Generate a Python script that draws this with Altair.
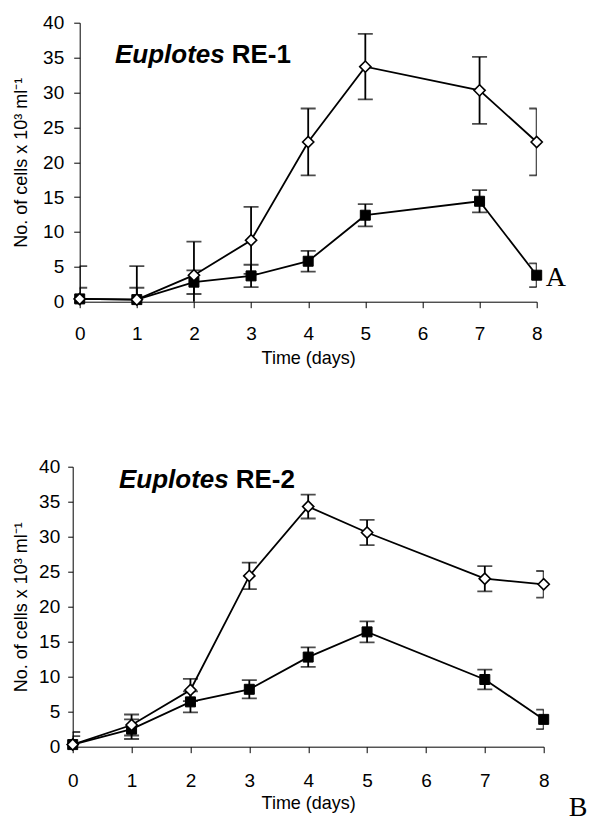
import altair as alt
import pandas as pd

# ---- data ----
days = [0, 1, 2, 3, 4, 5, 7, 8]
x_ticks = [0, 1, 2, 3, 4, 5, 6, 7, 8]
y_ticks = [0, 5, 10, 15, 20, 25, 30, 35, 40]

re1_open_mean = [0.4, 0.3, 3.8, 8.8, 22.9, 33.7, 30.3, 22.9]
re1_open_err = [4.7, 4.8, 4.8, 4.8, 4.8, 4.7, 4.8, 4.8]
re1_filled_mean = [0.4, 0.3, 2.8, 3.7, 5.8, 12.4, 14.4, 3.8]
re1_filled_err = [1.6, 1.7, 1.7, 1.6, 1.5, 1.6, 1.6, 1.7]

re2_open_mean = [0.3, 3.1, 8.1, 24.4, 34.3, 30.6, 24.0, 23.2]
re2_open_err = [1.8, 1.5, 1.6, 1.9, 1.7, 1.8, 1.8, 1.9]
re2_filled_mean = [0.3, 2.5, 6.4, 8.2, 12.8, 16.4, 9.6, 3.9]
re2_filled_err = [1.2, 1.4, 1.5, 1.3, 1.4, 1.5, 1.4, 1.4]

series_names = ["open", "filled"]
title_italic = ["Euplotes", "Euplotes"]
title_rest = ["RE-1", "RE-2"]
panel_letters = ["A", "B"]
x_title = "Time (days)"
y_title = "No. of cells x 10\u00b3 ml\u207b\u00b9"

FONT = "Liberation Sans"


def make_df(open_mean, open_err, filled_mean, filled_err):
    rows = []
    for name, m, e in [("open", open_mean, open_err), ("filled", filled_mean, filled_err)]:
        for d, mv, ev in zip(days, m, e):
            rows.append({"series": name, "day": d, "mean": mv, "lo": mv - ev, "hi": mv + ev})
    return pd.DataFrame(rows)


def panel(df, w, h, cfg):
    x_axis = alt.Axis(values=x_ticks, grid=False, tickSize=cfg["xtick"], labelPadding=cfg["xlabpad"],
                      labelFontSize=19, labelFont=FONT, labelColor="black", tickColor="black",
                      domainColor="black", title=x_title, titleFont=FONT, titleFontSize=18,
                      titleFontWeight="normal", titleColor="black", titleBaseline="top",
                      titleY=cfg["xtitley"], labelFlush=False)
    y_axis = alt.Axis(values=y_ticks, grid=False, tickSize=cfg["ytick"], labelPadding=cfg["ylabpad"],
                      labelFontSize=19, labelFont=FONT, labelColor="black", tickColor="black",
                      domainColor="black", title=y_title, titleFont=FONT, titleFontSize=18,
                      titleFontWeight="normal", titleColor="black", titleBaseline="middle",
                      titleX=cfg["ytitlex"], labelFlush=False)
    xs = alt.Scale(domain=[0, 8], nice=False)
    ys = alt.Scale(domain=[0, 40], nice=False)

    def X():
        return alt.X("day:Q", scale=xs, axis=x_axis)

    def Y(f):
        return alt.Y(f + ":Q", scale=ys, axis=y_axis)

    base = alt.Chart(df)
    lines = base.mark_line(color="black", strokeWidth=1.8).encode(x=X(), y=Y("mean"), detail="series:N")
    rules = base.mark_rule(color="black", strokeWidth=1.8, clip=True).encode(
        x=X(), y=Y("lo"), y2="hi:Q")
    cap_hi = base.mark_tick(orient="horizontal", size=15, thickness=1.8, color="black", clip=True).encode(
        x=X(), y=Y("hi"))
    cap_lo = base.mark_tick(orient="horizontal", size=15, thickness=1.8, color="black", clip=True).encode(
        x=X(), y=Y("lo"))
    pts_f = base.transform_filter(alt.datum.series == "filled").mark_point(
        shape="square", size=100, fill="black", stroke="black", strokeWidth=1, fillOpacity=1, opacity=1
    ).encode(x=X(), y=Y("mean"))
    pts_o = base.transform_filter(alt.datum.series == "open").mark_point(
        shape="diamond", size=125, fill="white", stroke="black", strokeWidth=1.6, fillOpacity=1, opacity=1
    ).encode(x=X(), y=Y("mean"))

    t1 = alt.Chart(pd.DataFrame({"t": [cfg["italic"]]})).mark_text(
        font=FONT, fontSize=26, fontWeight="bold", fontStyle="italic", align="right",
        baseline="alphabetic", color="black"
    ).encode(text="t:N", x=alt.value(cfg["tx"]), y=alt.value(cfg["ty"]))
    t2 = alt.Chart(pd.DataFrame({"t": [cfg["rest"]]})).mark_text(
        font=FONT, fontSize=26, fontWeight="bold", align="left", baseline="alphabetic", color="black"
    ).encode(text="t:N", x=alt.value(cfg["tx"] + 7), y=alt.value(cfg["ty"]))
    lab = alt.Chart(pd.DataFrame({"t": [cfg["letter"]]})).mark_text(
        font="Liberation Serif", fontSize=28, align="left", baseline="alphabetic", color="black"
    ).encode(text="t:N", x=alt.value(cfg["lx"]), y=alt.value(cfg["ly"]))

    return alt.layer(lines, rules, cap_hi, cap_lo, pts_f, pts_o, t1, t2, lab).properties(width=w, height=h)


df1 = make_df(re1_open_mean, re1_open_err, re1_filled_mean, re1_filled_err)
df2 = make_df(re2_open_mean, re2_open_err, re2_filled_mean, re2_filled_err)

top = panel(df1, 457, 279, {"xtick": 6, "xlabpad": 17, "xtitley": 48, "ytick": 6, "ylabpad": 10,
                            "ytitlex": -58, "italic": title_italic[0], "rest": title_rest[0],
                            "tx": 145, "ty": 40, "letter": panel_letters[0], "lx": 466, "ly": 263})
bottom = panel(df2, 471, 280, {"xtick": 6, "xlabpad": 19, "xtitley": 48, "ytick": 5, "ylabpad": 8,
                               "ytitlex": -51, "italic": title_italic[1], "rest": title_rest[1],
                               "tx": 156, "ty": 21, "letter": panel_letters[1], "lx": 496, "ly": 349})

chart = alt.vconcat(top, bottom, spacing=165, bounds="flush", center=True).properties(
    autosize=alt.AutoSizeParams(type="none"),
    padding={"left": 64.7, "top": 14.7, "right": 514, "bottom": 805}
).configure_view(stroke="transparent")

chart.save("out.html", embed_options={"renderer": "svg", "actions": False})
